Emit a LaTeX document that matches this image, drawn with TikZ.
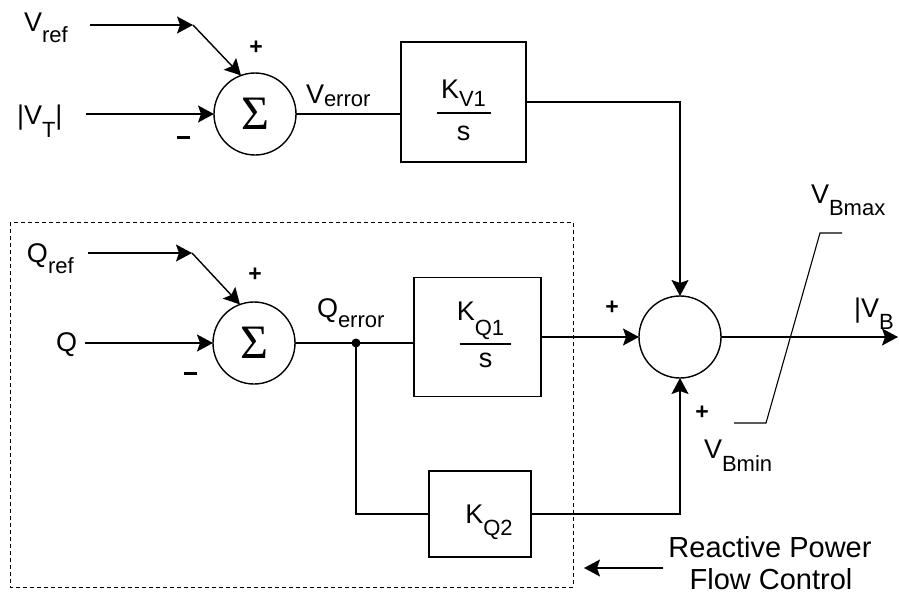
\documentclass[tikz,border=0pt]{standalone}
\usepackage{fontspec}
\setmainfont{Liberation Sans}
\newfontfamily\sigfont{Liberation Serif}
\usetikzlibrary{arrows.meta,calc}
\newcommand\lsub[2][10pt]{\raisebox{-#1}{\fontsize{22}{22}\selectfont #2}}
\begin{document}
\begin{tikzpicture}[x=1pt,y=-1pt,
  every node/.style={font=\fontsize{27}{30}\selectfont, inner sep=0pt, outer sep=0pt},
  ln/.style={line width=1.4pt},
  arr/.style={line width=1.4pt, -{Stealth[length=16pt,width=17pt,inset=3pt]}},
  sumc/.style={draw, circle, line width=1.4pt, minimum size=82pt, font=\sigfont\fontsize{48}{48}\selectfont},
  blk/.style={draw, rectangle, line width=1.9pt},
  sgn/.style={font=\fontsize{23}{23}\selectfont\bfseries},
  lbl/.style={anchor=base west}]
\useasboundingbox (0,0) rectangle (899,594);

% dashed group
\draw[line width=1pt, dash pattern=on 4pt off 3pt] (10,222) rectangle (573,587);

% summing junctions
\node[sumc] (s1) at (255,114) {Σ};
\node[sumc] (s2) at (254,343) {Σ};
\node[sumc, font=\normalsize] (s3) at (680,337) {};

% blocks
\node[blk, minimum width=125pt, minimum height=120pt] (kv) at (463.5,102) {};
\node[blk, minimum width=127pt, minimum height=119pt] (kq1) at (477.5,337) {};
\node[blk, minimum width=102pt, minimum height=86pt] (kq2) at (480,514) {};

% block contents
\node[anchor=base] (kvn) at ($(kv.center)+(0,-4)$) {K\lsub[9pt]{V1}};
\draw[line width=1.6pt] ($(kv.center)+(-27,11)$) -- ($(kv.center)+(27,11)$);
\node[anchor=base] (kvd) at ($(kv.center)+(0,38)$) {s};
\node[anchor=base] (kqn) at ($(kq1.center)+(3,-17)$) {K\lsub[15pt]{Q1}};
\draw[line width=1.6pt] ($(kq1.center)+(-18,7)$) -- ($(kq1.center)+(33,7)$);
\node[anchor=base] (kqd) at ($(kq1.center)+(8,30)$) {s};
\node[anchor=base] (kq2n) at ($(kq2.center)+(9,9)$) {K\lsub[12pt]{Q2}};

% labels
\node[lbl] (vref) at (24,32) {V\lsub[11pt]{ref}};
\node[lbl] (vt) at (17,124) {|V\lsub[13pt]{T}|};
\node[lbl] (verr) at (306,103) {V\lsub[3pt]{error}};
\node[lbl] (qref) at (27,262) {Q\lsub[11pt]{ref}};
\node[lbl] (q) at (56,351) {Q};
\node[lbl] (qerr) at (317,317) {Q\lsub[10pt]{error}};
\node[lbl] (vb) at (854,317) {|V\lsub[12pt]{B}};
\node[lbl] (vbmax) at (811,203) {V\lsub[12pt]{Bmax}};
\node[lbl] (vbmin) at (704,458) {V\lsub[13pt]{Bmin}};
\node[anchor=base, font=\fontsize{29}{31}\selectfont] (rp1) at (770,557) {Reactive Power};
\node[anchor=base, font=\fontsize{29}{31}\selectfont] (rp2) at (771,589) {Flow Control};

% signs
\node[sgn] (p1) at (256,48) {+};
\node[sgn] (p2) at (255,275) {+};
\node[sgn] (p3) at (612,308) {+};
\node[sgn] (p4) at (702,413) {+};
\node (m1) at (183,137) {\rule{13pt}{3pt}};
\node (m2) at (190,373) {\rule{13pt}{3pt}};

% coordinates
\coordinate (a1) at (90,25);
\coordinate (c1) at (193,25);
\coordinate (a2) at (86,114);
\coordinate (a3) at (88,253);
\coordinate (c2) at (192,253);
\coordinate (a4) at (85,343);
\coordinate (j) at (356,343);
\coordinate (vbend) at (898,337);
\coordinate (l1) at (842,233);
\coordinate (l2) at (820,233);
\coordinate (l3) at (766,423);
\coordinate (l4) at (734,423);
\coordinate (ra) at (663,568);
\coordinate (rb) at (584,568);

% connectors
\draw[arr] (a1) -- (c1);
\draw[arr] (c1) -- (s1.110);
\draw[arr] (a2) -- (s1.west);
\draw[ln] (s1.east) -- (s1.east -| kv.west);
\draw[arr] (kv.east) -| (s3.north);
\draw[arr] (a3) -- (c2);
\draw[arr] (c2) -- (s2.110);
\draw[arr] (a4) -- (s2.west);
\draw[ln] (s2.east) -- (j) -- (j -| kq1.west);
\fill (j) circle (4.5pt);
\draw[ln] (j) |- (kq2.west);
\draw[arr] (kq1.east) -- (s3.west);
\draw[arr] (kq2.east) -| (s3.south);
\draw[arr] (s3.east) -- (vbend);
\draw[line width=1.1pt] (l1) -- (l2) -- (l3) -- (l4);
\draw[arr] (ra) -- (rb);
\end{tikzpicture}
\end{document}
